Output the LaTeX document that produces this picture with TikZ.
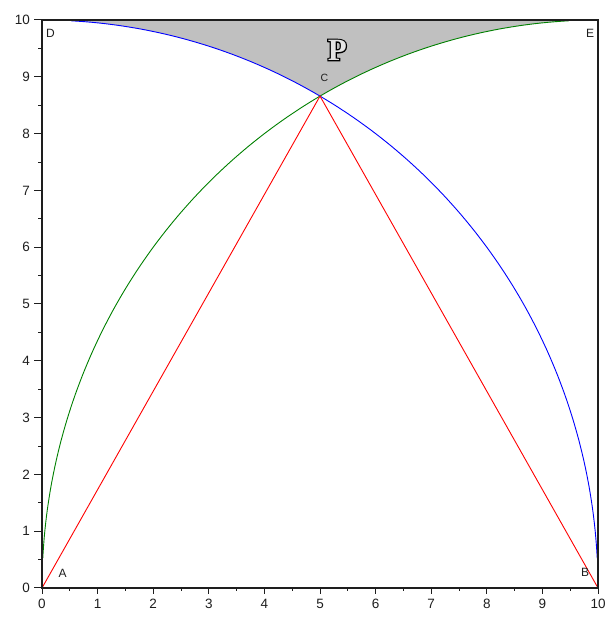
\documentclass[tikz,border=0pt]{standalone}
\usepackage{fontspec}
\setmainfont{Liberation Sans}
\setsansfont{Liberation Sans}
\newfontfamily\Pfont{Liberation Serif}
\newfontfamily\PfontOut{Liberation Serif}[BoldFeatures={FakeBold=8}]
\definecolor{plotgreen}{RGB}{0,128,0}
\definecolor{fillgray}{RGB}{192,192,192}
\definecolor{axisc}{RGB}{30,30,30}
\begin{document}
\begin{tikzpicture}[x=55.6pt,y=56.8pt,
  axisline/.style={draw=axisc,line width=1.3pt},
  tickmaj/.style={draw=axisc,line width=1pt},
  tickmin/.style={draw=axisc,line width=0.8pt},
  ticklab/.style={font=\fontsize{13.5}{14}\selectfont,text=axisc,inner sep=0pt},
  ptlab/.style={font=\fontsize{12}{13}\selectfont,text=axisc,inner sep=0pt},
  Pstyle/.style={inner sep=0pt,font=\fontsize{31}{33}\selectfont\bfseries},
  curve/.style={line width=0.9pt}]
\useasboundingbox (-0.7554,-0.581) rectangle (10.1439,10.352);
% shaded region P
\fill[fillgray] plot[domain=87:60,samples=60] ({10*cos(\x)},{10*sin(\x)})
  -- plot[domain=120:93,samples=60] ({10+10*cos(\x)},{10*sin(\x)})
  -- (9.48,10) -- (0.52,10) -- cycle;
% points
\coordinate (A) at (0,0);
\coordinate (B) at (10,0);
\coordinate (C) at (5,8.660);
% arcs
\draw[curve,plotgreen] plot[domain=93:177,samples=120] ({10+10*cos(\x)},{10*sin(\x)});
\draw[curve,blue] plot[domain=3:87,samples=120] ({10*cos(\x)},{10*sin(\x)});
% triangle sides
\draw[curve,red] (A) -- (C) -- (B);
% frame
\draw[axisline] (0,10) -- (10,10) -- (10,0);
\draw[axisline] (0,10) -- (0,0) -- (10,0);
% ticks
\foreach \i in {0,...,10} {
  \draw[tickmaj] (\i,0) -- ++(0,-6pt);
  \draw[tickmaj] (0,\i) -- ++(-8pt,0);
  \node[ticklab,anchor=north] (xl\i) at ([yshift=-11pt]\i,0) {\i};
  \node[ticklab,anchor=east] (yl\i) at ([xshift=-12pt]0,\i) {\i};
}
\foreach \i in {0,...,9} {
  \draw[tickmin] (\i+0.5,0) -- ++(0,-3pt);
  \draw[tickmin] (0,\i+0.5) -- ++(-4pt,0);
}
% labels
\node[ptlab] (lA) at (0.37,0.26) {A};
\node[ptlab] (lB) at (9.77,0.28) {B};
\node[ptlab,font=\fontsize{10.5}{11}\selectfont] (lC) at (5.08,8.98) {C};
\node[ptlab] (lD) at (0.15,9.77) {D};
\node[ptlab] (lE) at (9.86,9.77) {E};
% outlined P
\node[Pstyle] (lP) at (5.31,9.47)
  {\rlap{\PfontOut\bfseries\color{black}P}{\Pfont\bfseries\color{white!90!black}P}};
\end{tikzpicture}
\end{document}
